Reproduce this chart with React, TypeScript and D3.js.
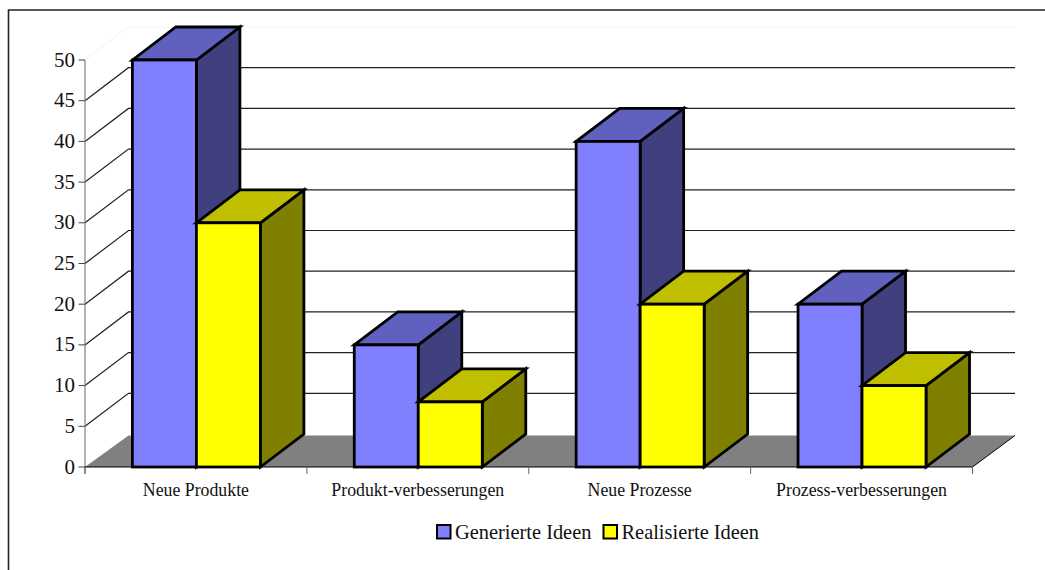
import React from "react";
import * as d3 from "d3";

const categories = ["Neue Produkte", "Produkt-verbesserungen", "Neue Prozesse", "Prozess-verbesserungen"];
const generierte = [50, 15, 40, 20];
const realisierte = [30, 8, 20, 10];
const seriesNames = ["Generierte Ideen", "Realisierte Ideen"];
const yTicks = [0, 5, 10, 15, 20, 25, 30, 35, 40, 45, 50];

const W = 1045;
const H = 570;
const depthX = 43.5;
const depthY = 33;
const floorDepthY = 31.5;
const font = "'Liberation Serif', serif";

// Front face and its shaded faces for each series
const palettes = [
  { front: "#8080ff", top: "#6060bf", side: "#40407f" },
  { front: "#ffff00", top: "#bfbf00", side: "#7f7f00" },
];

const y = d3.scaleLinear().domain([0, 50]).range([467, 60]);
const x = d3.scaleBand<string>().domain(categories).range([85, 972.5]);
const barWidth = 64;
const barInset = 47.4;

const poly = (pts: [number, number][]) => d3.line()(pts) + "Z";

function Bar({ x0, value, colors }: { x0: number; value: number; colors: typeof palettes[number] }) {
  const x1 = x0 + barWidth;
  const yt = y(value);
  const yb = y(0);
  const stroke = { stroke: "#000", strokeWidth: 2.8, strokeLinejoin: "miter" as const };
  return (
    <g>
      <path d={poly([[x1, yt], [x1 + depthX, yt - depthY], [x1 + depthX, yb - depthY], [x1, yb]])} fill={colors.side} {...stroke} />
      <path d={poly([[x0, yt], [x0 + depthX, yt - depthY], [x1 + depthX, yt - depthY], [x1, yt]])} fill={colors.top} {...stroke} />
      <rect x={x0} y={yt} width={barWidth} height={yb - yt} fill={colors.front} {...stroke} />
    </g>
  );
}

export default function App() {
  const y0 = y(0);
  const xEnd = 972.5;
  const floor = poly([[85, y0], [85 + depthX, y0 - floorDepthY], [xEnd + 42.5, y0 - floorDepthY], [xEnd, y0]]);
  const axisTicks = [...categories.map((c) => x(c)!), xEnd];
  return (
    <svg width={W} height={H} viewBox={`0 0 ${W} ${H}`} style={{ position: "absolute", left: 0, top: 0, background: "#fff" }}>
      <path d={`M8.5,${H}V10H${W}`} fill="none" stroke="#222" strokeWidth={1.6} />

      {/* Floor of the 3D plot */}
      <path d={floor} fill="#808080" />
      <path d={`M${xEnd},${y0}L${xEnd + 42.5},${y0 - floorDepthY}`} stroke="#000" strokeWidth={1} fill="none" />

      {/* Gridlines on the side and back walls */}
      {yTicks.filter((t) => t > 0).map((t) => (
        <path
          key={t}
          d={`M85,${y(t)}L${85 + depthX},${y(t) - depthY}H1015`}
          fill="none"
          stroke={t === 50 ? "#f6f6f6" : "#222"}
          strokeWidth={1.2}
        />
      ))}

      {/* Axes */}
      <line x1={85} x2={85} y1={y(50)} y2={y0 + 7} stroke="#808080" strokeWidth={1.2} />
      {yTicks.map((t) => (
        <g key={t}>
          <line x1={78.5} x2={85} y1={y(t)} y2={y(t)} stroke="#444" strokeWidth={1} />
          <text x={75} y={y(t) + 6.5} textAnchor="end" fontFamily={font} fontSize={21} fill="#111">{t}</text>
        </g>
      ))}
      <line x1={85} x2={xEnd} y1={y0} y2={y0} stroke="#000" strokeWidth={1} />
      {axisTicks.map((t) => (
        <line key={t} x1={t} x2={t} y1={y0} y2={y0 + 7} stroke="#666" strokeWidth={1} />
      ))}

      {/* Bars, drawn back to front */}
      {categories.map((c, i) => {
        const x0 = x(c)! + barInset;
        return (
          <g key={c}>
            <Bar x0={x0} value={generierte[i]} colors={palettes[0]} />
            <Bar x0={x0 + barWidth} value={realisierte[i]} colors={palettes[1]} />
            <text x={x0 + barWidth - 0.5} y={496} textAnchor="middle" fontFamily={font} fontSize={17.8} fill="#111">{c}</text>
          </g>
        );
      })}

      {/* Legend */}
      <rect x={437} y={525} width={13.5} height={13.5} fill={palettes[0].front} stroke="#000" strokeWidth={2} />
      <text x={455} y={538.5} fontFamily={font} fontSize={20.4} fill="#111">{seriesNames[0]}</text>
      <rect x={603.5} y={525} width={13.5} height={13.5} fill={palettes[1].front} stroke="#000" strokeWidth={2} />
      <text x={621.5} y={538.5} fontFamily={font} fontSize={20.4} fill="#111">{seriesNames[1]}</text>
    </svg>
  );
}
